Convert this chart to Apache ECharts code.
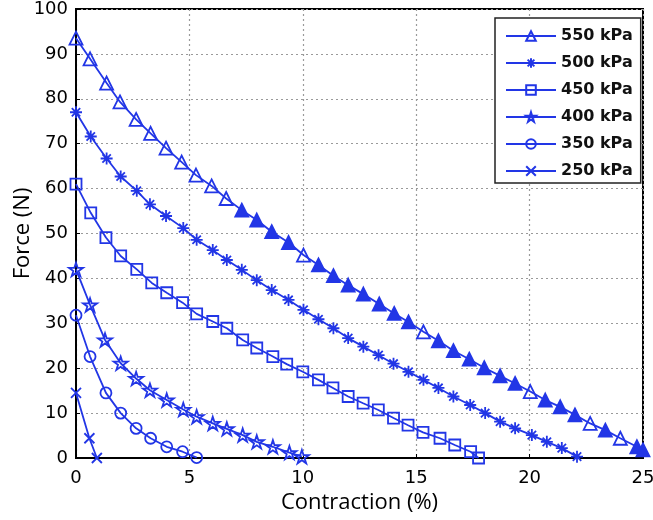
<!DOCTYPE html>
<html>
<head>
<meta charset="utf-8">
<script src="https://cdn.jsdelivr.net/npm/echarts@6/dist/echarts.min.js"></script>
<style>
html,body{margin:0;padding:0;background:#fff;}
#chart{width:653px;height:520px;}
</style>
</head>
<body>
<div id="chart"></div>
<script>
// ---- data ----
const seriesNames = ['550 kPa', '500 kPa', '450 kPa', '400 kPa', '350 kPa', '250 kPa'];

const x550 = [0, 0.62, 1.35, 1.94, 2.65, 3.29, 3.97, 4.66, 5.29, 5.98, 6.62, 7.31, 7.97, 8.63, 9.37, 10.03, 10.69, 11.35, 12.0, 12.67, 13.37, 14.03, 14.66, 15.32, 15.98, 16.64, 17.34, 18.0, 18.7, 19.36, 20.03, 20.69, 21.35, 22.0, 22.67, 23.34, 24.0, 24.73, 25.0];
const y550 = [93.5, 88.9, 83.5, 79.3, 75.4, 72.3, 69.0, 65.9, 63.0, 60.6, 57.8, 55.2, 53.0, 50.4, 48.0, 45.2, 43.0, 40.6, 38.5, 36.5, 34.3, 32.2, 30.3, 28.1, 26.1, 23.9, 22.0, 20.1, 18.3, 16.6, 14.8, 12.9, 11.4, 9.6, 7.7, 6.2, 4.4, 2.5, 1.8];

const x500 = [0, 0.65, 1.35, 1.97, 2.68, 3.26, 3.97, 4.73, 5.32, 6.03, 6.65, 7.31, 7.97, 8.63, 9.37, 10.03, 10.69, 11.35, 12.0, 12.67, 13.34, 14.0, 14.66, 15.32, 15.98, 16.64, 17.38, 18.04, 18.7, 19.36, 20.1, 20.76, 21.42, 22.09];
const y500 = [77, 71.6, 66.7, 62.7, 59.5, 56.5, 53.9, 51.2, 48.6, 46.3, 44.1, 41.9, 39.6, 37.4, 35.2, 33.0, 30.9, 28.9, 26.7, 24.8, 22.9, 21.0, 19.2, 17.4, 15.6, 13.7, 11.8, 10.0, 8.1, 6.6, 5.1, 3.6, 2.2, 0.3];

const x450 = [0, 0.65, 1.32, 1.97, 2.68, 3.34, 4.0, 4.7, 5.32, 6.03, 6.65, 7.35, 7.97, 8.68, 9.29, 10.0, 10.69, 11.33, 12.0, 12.66, 13.33, 14.0, 14.64, 15.3, 16.05, 16.7, 17.4, 17.75];
const y450 = [61, 54.6, 49.1, 45.0, 42.0, 39.0, 36.8, 34.6, 32.1, 30.4, 28.9, 26.3, 24.5, 22.6, 20.9, 19.2, 17.4, 15.6, 13.7, 12.2, 10.7, 8.9, 7.3, 5.7, 4.4, 2.9, 1.4, 0];

const x400 = [0, 0.62, 1.28, 1.97, 2.65, 3.26, 4.0, 4.73, 5.32, 6.03, 6.65, 7.35, 7.97, 8.68, 9.41, 9.96];
const y400 = [42, 34.1, 26.3, 21.1, 17.7, 15.1, 12.9, 10.8, 9.2, 7.7, 6.5, 5.1, 3.6, 2.5, 1.2, 0.3];

const x350 = [0, 0.62, 1.32, 1.97, 2.65, 3.29, 4.0, 4.7, 5.32];
const y350 = [31.8, 22.6, 14.5, 10.0, 6.6, 4.4, 2.5, 1.4, 0.1];

const x250 = [0, 0.59, 0.92];
const y250 = [14.5, 4.4, 0];

const xTicks = [0, 5, 10, 15, 20, 25];
const yTicks = [0, 10, 20, 30, 40, 50, 60, 70, 80, 90, 100];

// ---- styling ----
const BLUE = '#2236e6';
const STAR = 'path://M0,-10 L2.245,-3.09 L9.511,-3.09 L3.633,1.18 L5.878,8.09 L0,3.82 L-5.878,8.09 L-3.633,1.18 L-9.511,-3.09 L-2.245,-3.09 Z';
const ASTER = 'path://M10,0 L10,20 M0,10 L20,10 M3,3 L17,17 M3,17 L17,3';
const CROSS = 'path://M0,0 L20,20 M0,20 L20,0';

const xs = [x550, x500, x450, x400, x350, x250];
const ys = [y550, y500, y450, y400, y350, y250];
const symbols = ['triangle', ASTER, 'rect', STAR, 'circle', CROSS];
const sizes = [13, 12, 11, 14, 11, 10];

// the 550 kPa markers look filled (overlapping) beyond about 7 %, except a few
const hollow550 = [10.03, 15.32, 20.03, 22.67, 24.0];

const series = seriesNames.map((name, i) => ({
  name: name,
  type: 'line',
  data: xs[i].map((x, j) => {
    const d = { value: [x, ys[i][j]] };
    if (i === 0 && x > 7 && !hollow550.includes(x)) {
      d.itemStyle = { color: BLUE };
    }
    return d;
  }),
  symbol: symbols[i],
  symbolSize: sizes[i],
  symbolKeepAspect: true,
  showAllSymbol: true,
  clip: false,
  color: BLUE,
  lineStyle: { color: BLUE, width: 1.8 },
  itemStyle: { color: 'rgba(255,255,255,0)', borderColor: BLUE, borderWidth: 1.8 },
  emphasis: { disabled: true },
  z: 3
}));

const chart = echarts.init(document.getElementById('chart'), null, { renderer: 'canvas' });
chart.setOption({
  animation: false,
  backgroundColor: '#fff',
  grid: {
    left: 76, right: 10, top: 9, bottom: 62,
    outerBoundsMode: 'none', containLabel: false,
    show: true, borderColor: '#000', borderWidth: 2, backgroundColor: '#fff'
  },
  legend: {
    data: seriesNames,
    orient: 'vertical',
    left: 495, top: 18,
    padding: [9, 8, 3, 10],
    itemWidth: 50, itemHeight: 12, itemGap: 9,
    backgroundColor: '#fff',
    borderColor: '#222', borderWidth: 1.5,
    textStyle: { fontFamily: 'DejaVu Sans', fontWeight: 'bold', fontSize: 16, color: '#111', lineHeight: 18 },
    selectedMode: false
  },
  xAxis: {
    type: 'value', min: 0, max: 25, interval: 5,
    name: 'Contraction (%)', nameLocation: 'middle', nameGap: 34, nameMoveOverlap: false,
    nameTextStyle: { fontFamily: 'Open Sans', fontSize: 22, color: '#000' },
    axisLine: { show: true, lineStyle: { color: '#000', width: 2 } },
    axisTick: { show: true, inside: true, length: 4, lineStyle: { color: '#000' } },
    axisLabel: { fontFamily: 'DejaVu Sans', fontSize: 18, color: '#000', margin: 11,
      formatter: v => xTicks.includes(v) ? String(v) : '' },
    splitLine: { show: true, lineStyle: { color: '#9a9a9a', type: [2, 3], width: 1.2 } }
  },
  yAxis: {
    type: 'value', min: 0, max: 100, interval: 10,
    name: 'Force (N)', nameLocation: 'middle', nameGap: 42, nameRotate: 90, nameMoveOverlap: false,
    nameTextStyle: { fontFamily: 'Open Sans', fontSize: 22, color: '#000' },
    axisLine: { show: true, lineStyle: { color: '#000', width: 2 } },
    axisTick: { show: true, inside: true, length: 4, lineStyle: { color: '#000' } },
    axisLabel: { fontFamily: 'DejaVu Sans', fontSize: 18, color: '#000', margin: 8,
      formatter: v => yTicks.includes(v) ? String(v) : '' },
    splitLine: { show: true, lineStyle: { color: '#9a9a9a', type: [2, 3], width: 1.2 } }
  },
  series: series
});
</script>
</body>
</html>
